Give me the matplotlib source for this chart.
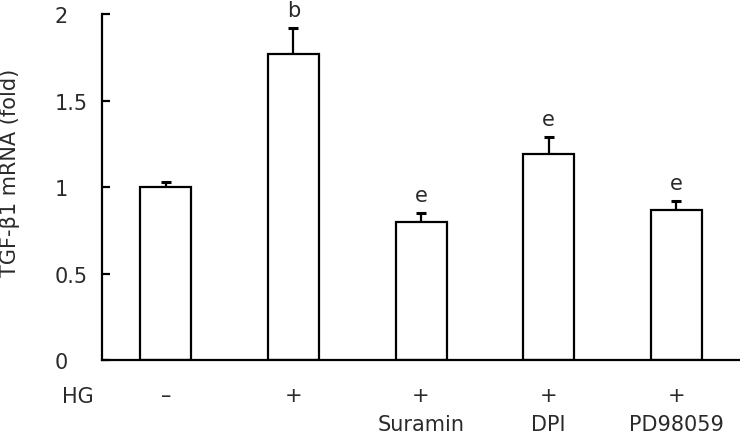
import numpy as np
import matplotlib.pyplot as plt
from matplotlib.transforms import blended_transform_factory

# data
hg_signs = ["\u2013", "+", "+", "+", "+"]
inhibitors = ["", "", "Suramin", "DPI", "PD98059"]
fold_values = [1.00, 1.77, 0.80, 1.19, 0.87]
fold_errors = [0.03, 0.15, 0.05, 0.10, 0.05]
sig_letters = ["", "b", "e", "e", "e"]

TEXT_COLOR = "#2a2a2a"
FS = 15

plt.rcParams["font.family"] = "DejaVu Sans"

fig = plt.figure(figsize=(7.4, 4.35), dpi=100)
ax = fig.add_axes([0.138, 0.170, 0.862, 0.7955])

x = np.arange(len(fold_values))
ax.bar(x, fold_values, width=0.4, color="white", edgecolor="black",
       linewidth=1.6, zorder=2)
ax.errorbar(x, fold_values, yerr=[np.zeros(len(fold_errors)), fold_errors],
            fmt="none", ecolor="black", elinewidth=1.6, capsize=3.5,
            capthick=2.2, zorder=1)

for xi, v, e, letter in zip(x, fold_values, fold_errors, sig_letters):
    if letter:
        ax.text(xi, v + e + 0.105, letter, ha="center", va="center",
                fontsize=FS, color=TEXT_COLOR)

ax.set_xlim(-0.5, 4.5)
ax.set_ylim(0, 2)
ax.set_yticks([0, 0.5, 1, 1.5, 2])
ax.set_yticklabels(["0", "0.5", "1", "1.5", "2"])
ax.tick_params(axis="y", direction="in", length=6, width=1.6, pad=34,
               labelsize=FS, labelcolor=TEXT_COLOR)
for lab in ax.get_yticklabels():
    lab.set_ha("left")

ax.set_xticks(x)
ax.set_xticklabels([])
ax.tick_params(axis="x", length=0)

ax.set_ylabel("TGF-\u03b21 mRNA (fold)", fontsize=FS, color=TEXT_COLOR)
ax.yaxis.set_label_coords(-0.128, 0.543)

trans = blended_transform_factory(ax.transData, ax.transAxes)
ax.text(-0.69, -0.104, "HG", transform=trans, ha="center", va="center",
        fontsize=FS, color=TEXT_COLOR, clip_on=False)
for xi, sign, name in zip(x, hg_signs, inhibitors):
    ax.text(xi, -0.100, sign, transform=trans, ha="center", va="center",
            fontsize=FS, color=TEXT_COLOR, clip_on=False)
    if name:
        ax.text(xi, -0.185, name, transform=trans, ha="center", va="center",
                fontsize=FS, color=TEXT_COLOR, clip_on=False)

for side in ["top", "right"]:
    ax.spines[side].set_visible(False)
for side in ["left", "bottom"]:
    ax.spines[side].set_linewidth(1.6)

fig.savefig("out.png", dpi=100, facecolor="white")
